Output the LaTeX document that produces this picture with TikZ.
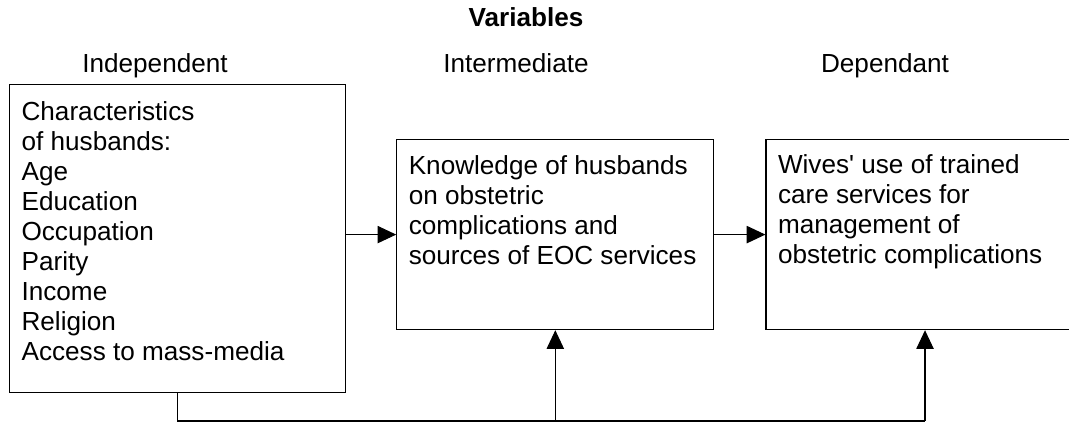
\documentclass[tikz,border=0pt]{standalone}
\usepackage{fontspec}
\setmainfont{Liberation Sans}
\usepackage{tikz}
\usetikzlibrary{positioning,arrows.meta}
\tikzstyle{varbox}=[rectangle, draw=black, line width=0.9pt, inner xsep=9pt, inner ysep=0pt]
\tikzstyle{heading}=[anchor=base, inner sep=0pt]
\tikzstyle{link}=[line width=0.8pt, -{Triangle[length=14pt, width=13pt]}]

\begin{document}
\begin{tikzpicture}[x=0.75pt, y=-0.75pt, font=\fontsize{19.6pt}{22.5pt}\selectfont]
        \useasboundingbox (0,0) rectangle (1069,423);
        \node (title) [heading] at (526,27) {\textbf{Variables}};
        \node (hindep) [heading] at (155,73) {Independent};
        \node (hinter) [heading] at (516,73) {Intermediate};
        \node (hdep) [heading] at (885,73) {Dependant};
        \node (indep) [varbox, anchor=north west] at (9,84)
        {
          \parbox[c][231pt][t]{234pt}{\rule{0pt}{27pt}Characteristics\\
          of husbands:\\ Age\\ Education\\ Occupation\\ Parity\\ Income\\
          Religion\\ Access to mass-media}
        };
        \node (inter) [varbox, right=37.5pt of indep, yshift=3pt]
        {
          \parbox[c][142.5pt][t]{219.75pt}{\rule{0pt}{26.25pt}Knowledge of husbands\\
          on obstetric\\ complications and\\ sources of EOC services}
        };
        \node (dep) [varbox, right=38.25pt of inter]
        {
          \parbox[c][142.5pt][t]{220.5pt}{\rule{0pt}{25.5pt}Wives\textquotesingle{} use of trained\\
          care services for\\ management of\\ obstetric complications}
        };
        \coordinate (bus) at (178,421);
        \draw[link] (inter.west -| indep.east) -- (inter.west);
        \draw[link] (inter) -- (dep);
        \draw[line width=0.8pt] (indep.south) -- (indep.south |- bus) -- (dep.south |- bus);
        \draw[link] (inter.south |- bus) -- (inter.south);
        \draw[link] (dep.south |- bus) -- (dep.south);
      \end{tikzpicture}
\end{document}
